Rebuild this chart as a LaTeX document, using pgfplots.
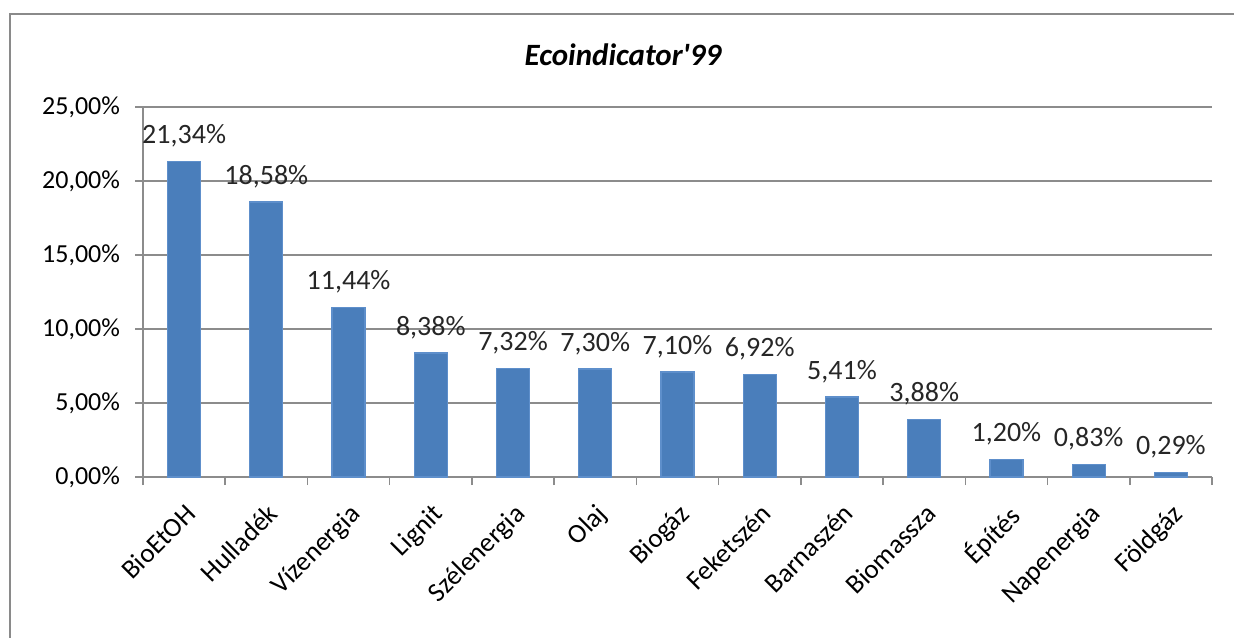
\documentclass[border=0pt]{standalone}
\usepackage{pgfplots}
\pgfplotsset{compat=1.18}
\usepackage{pgfplotstable}
\usepackage{fontspec}
\setmainfont{Carlito}
% plain family without TeX ligature mapping, so the apostrophe stays straight
\newfontfamily\plaincarlito{Carlito}

\definecolor{barblue}{HTML}{4A7EBB}
\definecolor{baredge}{HTML}{5E8FCB}
\definecolor{gridgray}{HTML}{8C8C8C}
\definecolor{framegray}{HTML}{8A8A8A}

\pgfplotstableread{
idx share
0  21.34
1  18.58
2  11.44
3  8.38
4  7.32
5  7.30
6  7.10
7  6.92
8  5.41
9  3.88
10 1.20
11 0.83
12 0.29
}\ecodata

\begin{document}
\begin{tikzpicture}
\useasboundingbox (0,0) rectangle (617pt,318.5pt);
\clip (0,0) rectangle (617pt,318.5pt);
% chart frame
\draw[framegray, line width=1pt] (5pt,-10pt) rectangle (640pt,311.5pt);
\node[font=\plaincarlito\fontsize{15.5}{18}\selectfont\bfseries\itshape] at (311.5pt,291pt) {Ecoindicator'99};
\begin{axis}[
  at={(71.5pt,80pt)}, anchor=south west,
  scale only axis,
  width=534.5pt, height=185pt,
  xmin=-0.5, xmax=12.5,
  ymin=0, ymax=25,
  axis lines*=left,
  axis line style={gridgray, line width=0.8pt},
  ytick={0,5,...,25},
  yticklabels={{0,00\%},{5,00\%},{10,00\%},{15,00\%},{20,00\%},{25,00\%}},
  ymajorgrids,
  grid style={gridgray, line width=0.8pt},
  xtick={0,...,12},
  xticklabels={BioEtOH,Hulladék,Vízenergia,Lignit,Szélenergia,Olaj,Biogáz,Feketszén,Barnaszén,Biomassza,Építés,Napenergia,Földgáz},
  minor xtick={-0.5,0.5,...,12.5},
  tick align=outside,
  major x tick style={draw=none},
  minor tick length=4pt,
  major tick length=4pt,
  tick style={gridgray, line width=0.8pt},
  xticklabel shift=7pt,
  xticklabel style={rotate=45, anchor=north east, font=\fontsize{13.5}{15}\selectfont, inner sep=1pt},
  yticklabel shift=4pt,
  yticklabel style={font=\fontsize{13}{15}\selectfont},
  /pgf/number format/assume math mode=true,
  nodes near coords={\pgfmathprintnumber[fixed,fixed zerofill,precision=2,use comma,assume math mode=true]{\pgfplotspointmeta}\%},
  every node near coord/.append style={font=\fontsize{14}{16}\selectfont, yshift=3.5pt, text=black!85},
  clip=false,
]
\addplot[ybar, bar width=16.5pt, fill=barblue, draw=baredge, line width=0.6pt] table[x=idx, y=share] {\ecodata};
\end{axis}
\end{tikzpicture}
\end{document}
